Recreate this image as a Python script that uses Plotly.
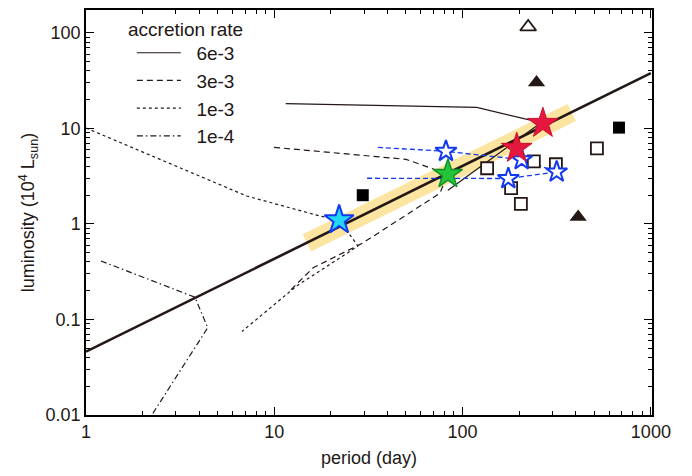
import plotly.graph_objects as go

# ---- data ----
fit_period = [1, 1000]
fit_lum = [0.046, 38]
band_period = [14.9, 380]
band_lum = [0.634, 14.7]

rate_labels = ["6e-3", "3e-3", "1e-3", "1e-4"]
track_6e3_period = [11.5, 119, 261, 83.6]
track_6e3_lum = [18.2, 16.6, 11.5, 2.26]
track_3e3_period = [9.96, 50.1, 83.6, 75.8, 65.5, 44.8, 29.6, 16.1, 12.1]
track_3e3_lum = [6.34, 4.75, 3.32, 2.10, 1.74, 1.07, 0.634, 0.348, 0.200]
track_1e3_period = [1.0, 3.16, 7.14, 17.5, 22.1, 27.8, 24.6, 13.2, 6.74]
track_1e3_lum = [10.1, 3.86, 1.96, 1.21, 1.10, 0.59, 0.50, 0.226, 0.075]
track_1e4_period = [1.2, 3.79, 4.43, 2.2]
track_1e4_lum = [0.41, 0.171, 0.082, 0.0095]

blue_upper_period = [35.5, 81.6, 206, 316]
blue_upper_lum = [6.34, 5.76, 4.72, 3.51]
blue_lower_period = [31.1, 175, 316]
blue_lower_lum = [3.01, 2.99, 3.51]

open_star_period = [81.6, 206, 175, 316]
open_star_lum = [5.76, 4.72, 2.99, 3.51]
cyan_star_period = [22.1]
cyan_star_lum = [1.10]
green_star_period = [83.6]
green_star_lum = [3.32]
red_star_period = [267, 194]
red_star_lum = [11.3, 6.19]

open_sq_period = [135, 239, 313, 517, 181, 204]
open_sq_lum = [3.83, 4.53, 4.22, 6.19, 2.37, 1.62]
filled_sq_period = [29.5, 677]
filled_sq_lum = [2.0, 10.2]
filled_tri_period = [247, 411]
filled_tri_lum = [30.3, 1.18]
open_tri_period = [223]
open_tri_lum = [115.5]

x_ticks = [1, 10, 100, 1000]
x_ticklabels = ["1", "10", "100", "1000"]
y_ticks = [0.01, 0.1, 1, 10, 100]
y_ticklabels = ["0.01", "0.1", "1", "10", "100"]

FONT = "Liberation Sans, Arial, Helvetica, sans-serif"
INK = "#231815"
fig = go.Figure()

# band
fig.add_trace(go.Scatter(x=band_period, y=band_lum, mode="lines",
                         line=dict(color="#fce5a0", width=19), showlegend=False, hoverinfo="skip"))
# main relation
fig.add_trace(go.Scatter(x=fit_period, y=fit_lum, mode="lines",
                         line=dict(color=INK, width=2.6), showlegend=False))

tracks = [
    (track_6e3_period, track_6e3_lum, "solid"),
    (track_3e3_period, track_3e3_lum, "6px,4px"),
    (track_1e3_period, track_1e3_lum, "3px,3px"),
    (track_1e4_period, track_1e4_lum, "6px,3px,1.5px,3px"),
]
for i, (px, ly, dash) in enumerate(tracks):
    fig.add_trace(go.Scatter(x=px, y=ly, mode="lines", name="\u00a0\u00a0" + rate_labels[i],
                             legendgroup=rate_labels[i],
                             line=dict(color=INK, width=1.2, dash=dash)))

blue = "#1238f0"
for px, ly in [(blue_upper_period, blue_upper_lum), (blue_lower_period, blue_lower_lum)]:
    fig.add_trace(go.Scatter(x=px, y=ly, mode="lines", showlegend=False,
                             line=dict(color=blue, width=1.3, dash="5px,3px")))

fig.add_trace(go.Scatter(x=open_sq_period, y=open_sq_lum, mode="markers", showlegend=False,
                         marker=dict(symbol="square", size=12, color="white",
                                     line=dict(color=INK, width=1.8))))
fig.add_trace(go.Scatter(x=filled_sq_period, y=filled_sq_lum, mode="markers", showlegend=False,
                         marker=dict(symbol="square", size=12, color="#000000",
                                     line=dict(color="#000000", width=0))))
fig.add_trace(go.Scatter(x=filled_tri_period, y=filled_tri_lum, mode="markers", showlegend=False,
                         marker=dict(symbol="triangle-up", size=15, color=INK,
                                     line=dict(color=INK, width=0))))
fig.add_trace(go.Scatter(x=open_tri_period, y=open_tri_lum, mode="markers", showlegend=False,
                         marker=dict(symbol="triangle-up", size=14, color="white",
                                     line=dict(color=INK, width=1.8))))
fig.add_trace(go.Scatter(x=open_star_period, y=open_star_lum, mode="markers", showlegend=False,
                         marker=dict(symbol="star", size=16, color="white",
                                     line=dict(color=blue, width=2))))
fig.add_trace(go.Scatter(x=cyan_star_period, y=cyan_star_lum, mode="markers", showlegend=False,
                         marker=dict(symbol="star", size=22, color="#22d8f5",
                                     line=dict(color="#1238f0", width=2))))
fig.add_trace(go.Scatter(x=green_star_period, y=green_star_lum, mode="markers", showlegend=False,
                         marker=dict(symbol="star", size=22, color="#23c43a",
                                     line=dict(color="#11902a", width=1.5))))
fig.add_trace(go.Scatter(x=red_star_period, y=red_star_lum, mode="markers", showlegend=False,
                         marker=dict(symbol="star", size=23, color="#e5173f",
                                     line=dict(color="#c8102e", width=1))))

axis_common = dict(type="log", showgrid=False, zeroline=False, showline=True,
                   linecolor="#000000", linewidth=1.5, mirror="allticks",
                   ticks="inside", ticklen=8, tickwidth=1.2, tickcolor="#000000",
                   tickfont=dict(family=FONT, size=18, color=INK),
                   minor=dict(ticks="inside", ticklen=4, tickwidth=1, tickcolor="#000000", dtick="D1"))

fig.update_xaxes(**axis_common, range=[0, 3.006], tickvals=x_ticks, ticktext=x_ticklabels,
                 title=dict(text="period (day)", font=dict(family=FONT, size=18, color=INK), standoff=10))
fig.update_yaxes(**axis_common, range=[-2, 2.24], tickvals=y_ticks, ticktext=y_ticklabels,
                 title=dict(text="luminosity (10<sup>4</sup> L<sub>sun</sub>)",
                            font=dict(family=FONT, size=18, color=INK), standoff=6))

fig.add_annotation(text="accretion rate", xref="paper", yref="paper", x=0.0705, y=0.951,
                   xanchor="left", yanchor="middle", showarrow=False,
                   font=dict(family=FONT, size=19, color=INK))

fig.update_layout(
    width=692, height=476,
    margin=dict(l=78, r=48, t=0, b=69),
    plot_bgcolor="white", paper_bgcolor="white",
    legend=dict(x=0.081, y=0.941, xanchor="left", yanchor="top",
                font=dict(family=FONT, size=19, color=INK),
                bgcolor="rgba(0,0,0,0)", tracegroupgap=0, itemwidth=44),
)

fig.write_html("out.html")
